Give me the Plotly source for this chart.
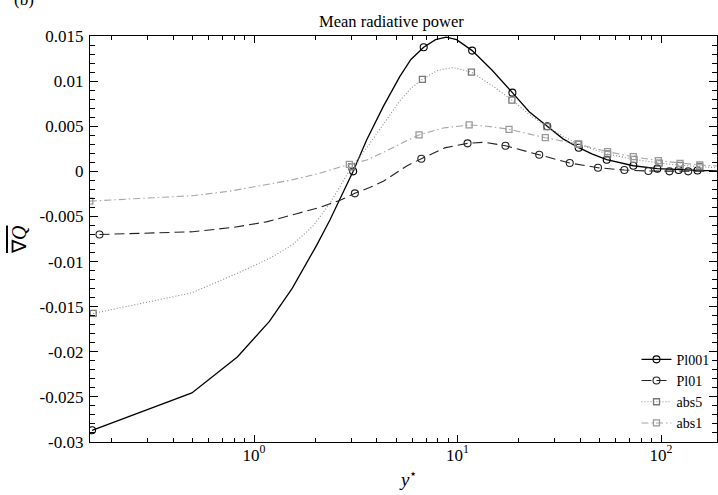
import plotly.graph_objects as go

# ---------------- data ----------------
pl001_x = [0.16, 0.495, 0.828, 1.19, 1.54, 2.03, 2.36, 2.65, 3.07, 3.58, 4.32, 5.2, 5.9, 6.82, 7.8, 8.8, 9.9,
           11.8, 14.8, 18.6, 22.5, 27.6, 33, 39.4, 46, 54.1, 73.1, 95.9, 122, 151, 188]
pl001_y = [-0.0287, -0.02456, -0.02057, -0.01664, -0.01298, -0.0082, -0.0054, -0.003, 0.0, 0.0035, 0.0072,
           0.0105, 0.0124, 0.01375, 0.0146, 0.01487, 0.0146, 0.01338, 0.0112, 0.00872, 0.0066, 0.005, 0.0036,
           0.00262, 0.0019, 0.00129, 0.00062, 0.0003, 0.00015, 0.0001, 0.00005]
pl001_marks = [0.16, 3.07, 6.82, 11.8, 18.6, 27.6, 39.4, 54.1, 73.1, 95.9, 122, 151]

pl01_x = [0.174, 0.5, 0.8, 1.15, 1.62, 2.1, 2.65, 3.13, 3.7, 4.32, 4.9, 5.63, 6.64, 8.65, 11.2, 13.5, 17.2,
          25.2, 35.6, 49, 66, 86.7, 110, 136, 188]
pl01_y = [-0.0070, -0.0067, -0.0062, -0.0056, -0.0047, -0.0040, -0.0032, -0.00244, -0.0018, -0.0011, -0.0003,
          0.0006, 0.0014, 0.0026, 0.0031, 0.00322, 0.00284, 0.00184, 0.00092, 0.0004, 0.00014, 0.00003, 0.0,
          0.0, 0.0]
pl01_marks = [0.174, 3.13, 6.64, 11.2, 17.2, 25.2, 35.6, 49, 66, 86.7, 110, 136]

abs5_x = [0.162, 0.494, 0.828, 1.19, 1.54, 1.96, 2.36, 2.65, 3.02, 3.58, 4.32, 5.2, 5.9, 6.72, 8.0, 9.5, 11.7,
          14.8, 18.5, 22.5, 27.5, 33, 39.4, 54.6, 73.6, 97.9, 124, 155, 188]
abs5_y = [-0.01575, -0.01347, -0.01131, -0.00965, -0.00817, -0.0060, -0.00355, -0.0017, 0.00051, 0.0026,
          0.0052, 0.0078, 0.0092, 0.0102, 0.0112, 0.0115, 0.0110, 0.0095, 0.0079, 0.0063, 0.00495, 0.0039,
          0.0030, 0.00192, 0.00133, 0.00092, 0.00067, 0.00051, 0.0004]
abs5_marks = [0.162, 3.02, 6.72, 11.7, 18.5, 27.5, 39.4, 54.6, 73.6, 97.9, 124, 155]

abs1_x = [0.156, 0.5, 0.76, 1.0, 1.5, 2.03, 2.5, 2.94, 3.58, 4.32, 5.63, 6.47, 8.5, 11.4, 14, 17.9, 27, 39,
          54.6, 73, 97, 124, 155, 188]
abs1_y = [-0.0033, -0.0027, -0.0022, -0.0017, -0.0010, -0.0003, 0.0003, 0.00078, 0.00125, 0.0021, 0.0034,
          0.00403, 0.0048, 0.00514, 0.0050, 0.00466, 0.00373, 0.00303, 0.00218, 0.00162, 0.00118, 0.00089,
          0.0007, 0.0006]
abs1_marks = [0.156, 2.94, 6.47, 11.4, 17.9, 27, 39, 54.6, 73, 97, 124, 155]

y_tickvals = [0.015, 0.01, 0.005, 0, -0.005, -0.01, -0.015, -0.02, -0.025, -0.03]
y_ticktext = ["0.015", "0.01", "0.005", "0", "-0.005", "-0.01", "-0.015", "-0.02", "-0.025", "-0.03"]
x_tickvals = [1, 10, 100]
x_ticktext = ["10<sup>0</sup>", "10<sup>1</sup>", "10<sup>2</sup>"]

# ---------------- style ----------------
FONT = "Liberation Serif, Times New Roman, serif"
series = [
    ("Pl001", pl001_x, pl001_y, pl001_marks, dict(color="#000000", width=1.3, dash="solid"),
     dict(symbol="circle-open", color="#000000", size=7, line=dict(width=1.1))),
    ("Pl01", pl01_x, pl01_y, pl01_marks, dict(color="#222222", width=1.1, dash="10px,5px"),
     dict(symbol="circle-open", color="#222222", size=7, line=dict(width=1.1))),
    ("abs5", abs5_x, abs5_y, abs5_marks, dict(color="#8a8a8a", width=1.1, dash="1px,2px"),
     dict(symbol="square-open", color="#777777", size=6, line=dict(width=1.3))),
    ("abs1", abs1_x, abs1_y, abs1_marks, dict(color="#a6a6a6", width=1.1, dash="7px,3px,1.5px,3px"),
     dict(symbol="square-open", color="#9a9a9a", size=6, line=dict(width=1.3))),
]

fig = go.Figure()
for name, xs, ys, marks, line, marker in series:
    fig.add_trace(go.Scatter(x=xs, y=ys, mode="lines", line=line, showlegend=False, hoverinfo="skip"))
    mx = [x for x in xs if x in marks]
    my = [y for x, y in zip(xs, ys) if x in marks]
    fig.add_trace(go.Scatter(x=mx, y=my, mode="markers", marker=marker, showlegend=False))
for name, xs, ys, marks, line, marker in series:
    fig.add_trace(go.Scatter(x=[None], y=[None], mode="lines+markers", name=name, line=line, marker=marker))

L, R, T, B = 90, 1, 36, 53
W, H = 718, 495
pw, ph = W - L - R, H - T - B

fig.update_layout(
    width=W, height=H,
    margin=dict(l=L, r=R, t=T, b=B),
    paper_bgcolor="white", plot_bgcolor="white",
    font=dict(family=FONT, size=17, color="black"),
    showlegend=True,
    legend=dict(x=0.996, xanchor="right", y=0.008, yanchor="bottom", bgcolor="rgba(0,0,0,0)",
                font=dict(size=14, family=FONT), tracegroupgap=0, itemwidth=30),
    xaxis=dict(type="log", range=[-0.806, 2.275], showgrid=False, zeroline=False,
               showline=True, linecolor="black", linewidth=1.2, mirror="allticks",
               ticks="inside", ticklen=7, tickwidth=1.1, tickcolor="black",
               tickmode="array", tickvals=x_tickvals, ticktext=x_ticktext,
               tickfont=dict(size=17, family=FONT), ticklabelstandoff=-3,
               minor=dict(ticks="inside", ticklen=4, tickwidth=1, tickcolor="black",
                          tickvals=[m * d for d in (0.1, 1, 10, 100) for m in range(2, 10)],
                          showgrid=False)),
    yaxis=dict(range=[-0.03, 0.015], showgrid=False, zeroline=False,
               showline=True, linecolor="black", linewidth=1.2, mirror="allticks",
               ticks="inside", ticklen=8, tickwidth=1.1, tickcolor="black",
               tickmode="array", tickvals=y_tickvals, ticktext=y_ticktext,
               tickfont=dict(size=17, family=FONT), ticklabelstandoff=2,
               minor=dict(ticks="inside", ticklen=5, tickwidth=1, tickcolor="black", dtick=0.001,
                          showgrid=False)),
    annotations=[
        dict(text="Mean radiative power", xref="paper", yref="paper",
             x=(391 - L) / pw, y=1 + (T - 21) / ph, xanchor="center", yanchor="middle",
             showarrow=False, font=dict(size=16.5, family=FONT)),
        dict(text="<i>y</i><sup>⋆</sup>", xref="paper", yref="paper",
             x=(408 - L) / pw, y=-(478 - (H - B)) / ph, xanchor="center", yanchor="middle",
             showarrow=False, font=dict(size=19, family=FONT)),
        dict(text="<span style='text-decoration:overline'>∇<i>Q</i></span>", xref="paper", yref="paper",
             x=(19 - L) / pw, y=(H - B - 240) / ph, xanchor="center", yanchor="middle", textangle=-90,
             showarrow=False, font=dict(size=20, family=FONT)),
        dict(text="(b)", xref="paper", yref="paper",
             x=(12 - L) / pw, y=1 + (T - 11) / ph, xanchor="left", yanchor="bottom",
             showarrow=False, font=dict(size=17, family=FONT)),
    ],
)

fig.write_html("out.html")
